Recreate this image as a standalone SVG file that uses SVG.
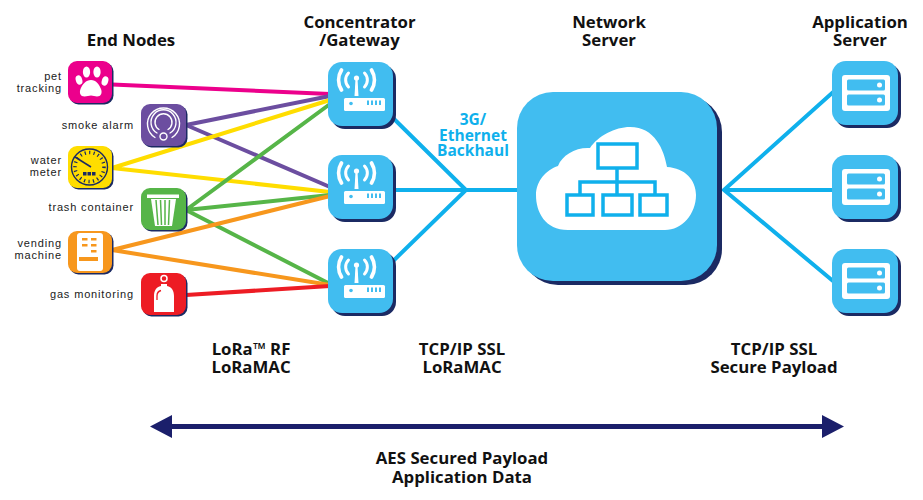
<svg xmlns="http://www.w3.org/2000/svg" width="923" height="500" viewBox="0 0 923 500">
<defs>
<style>
.h{font:700 16.800px "Open Sans","Liberation Sans",sans-serif;fill:#111;text-anchor:middle}
.l{font:400 11px "Liberation Sans",sans-serif;fill:#1a1a1a;text-anchor:end;letter-spacing:.85px}
.b{font:700 15.500px "Open Sans","Liberation Sans",sans-serif;fill:#0fb0ec;text-anchor:middle}
.c{fill:none;stroke-width:4}
.w{fill:#fff}
.sw{fill:none;stroke:#fff;stroke-linecap:round}
.s{fill:#1b2a63}
.blue{fill:#41bdf0}
</style>
<g id="gw">
<rect class="s" x="3" y="3" width="65" height="64" rx="14"/>
<rect class="blue" width="65" height="64" rx="14"/>
<rect class="w" x="16" y="36" width="41" height="13" rx="1.500"/>
<circle cx="23" cy="41.500" r="1.800" fill="#41bdf0"/>
<path d="M40 38.500v4.500M44 38.500v4.500M48 38.500v4.500M52 38.500v4.500" stroke="#41bdf0" stroke-width="2"/>
<path class="w" d="M26.500 34 L27.500 17 h2 L30.500 34z"/>
<circle class="w" cx="28.500" cy="16" r="2.600"/>
<path class="sw" stroke-width="3" d="M20.500 25a10 10 0 0 1 0-14M36.500 11a10 10 0 0 1 0 14"/>
<path class="sw" stroke-width="3.800" d="M13.500 28a19 19 0 0 1 0-20M43.500 8a19 19 0 0 1 0 20"/>
</g>
<g id="srv">
<rect class="s" x="3" y="3" width="66" height="64" rx="14"/>
<rect class="blue" width="66" height="64" rx="14"/>
<rect class="w" x="10" y="14" width="48" height="36" rx="3"/>
<rect class="blue" x="15" y="18.500" width="38" height="11" rx="1.500"/>
<rect class="blue" x="15" y="33.500" width="38" height="11" rx="1.500"/>
<circle class="w" cx="47.500" cy="24" r="2.500"/>
<circle class="w" cx="47.500" cy="39" r="2.500"/>
</g>
</defs>
<rect width="923" height="500" fill="#fff"/>

<g id="connectors">
<path class="c" stroke="#ec008c" d="M112 84.500 L330 94"/>
<path class="c" stroke="#6c4ea0" d="M186 125 L330 96 M186 125 L330 187"/>
<path class="c" stroke="#ffdd00" d="M112 168 L330 100 M112 168 L330 192"/>
<path class="c" stroke="#56b548" d="M186 210 L330 104 M186 210 L330 195 M186 210 L330 284"/>
<path class="c" stroke="#f7971d" d="M112 250 L330 196 M112 250 L330 285"/>
<path class="c" stroke="#ed1c24" d="M186 295 L330 286"/>
<path class="c" stroke="#0fb0ec" stroke-width="4.500" d="M388 113 L466 190 L388 266 M390 190 H520"/>
<path class="c" stroke="#0fb0ec" stroke-width="4.500" d="M836 89.500 L724 190 L836 283.500 M724 190 H836"/>
</g>

<g id="arrow">
<path d="M160 426.500 H832" stroke="#1b1f6b" stroke-width="5"/>
<path d="M150 426.500 L172 415 V438z M844 426.500 L822 415 V438z" fill="#1b1f6b"/>
</g>

<g id="pet-tracking">
<rect class="s" x="69.500" y="62.500" width="44" height="42" rx="9"/>
<rect x="68" y="61" width="44" height="42" rx="9" fill="#ec008c"/>
<g class="w">
<ellipse cx="79" cy="80" rx="3.200" ry="4.800" transform="rotate(-18 79 80)"/>
<ellipse cx="86.500" cy="72" rx="3.600" ry="5.500"/>
<ellipse cx="97" cy="72" rx="3.600" ry="5.500"/>
<ellipse cx="105" cy="81" rx="3.200" ry="4.800" transform="rotate(18 105 81)"/>
<path d="M91 80c5 0 8 4 10 9 1.500 4 0 7.500-4 7.500-2 0-4-1-6-1s-4 1-6.500 1c-4 0-5.500-3.500-4-7.500 2-5 5.500-9 10.500-9z"/>
</g>
<text class="l" x="62" y="80">pet</text><text class="l" x="62" y="92">tracking</text>
</g>

<g id="smoke-alarm">
<rect class="s" x="142.500" y="105.500" width="45" height="42" rx="9"/>
<rect x="141" y="104" width="45" height="42" rx="9" fill="#6c4ea0"/>
<g class="sw" stroke-width="1.400">
<path d="M155 137.500a16 16 0 1 1 17 0M157 133a12.500 12.500 0 1 1 13 0M159 129.500a8.500 8.500 0 1 1 9 0"/>
<circle cx="163.500" cy="136.500" r="3.500"/>
</g>
<text class="l" x="134" y="129">smoke alarm</text>
</g>

<g id="water-meter">
<rect class="s" x="69.500" y="147.500" width="44" height="42" rx="9"/>
<rect x="68" y="146" width="44" height="42" rx="9" fill="#ffdd00"/>
<circle cx="89.500" cy="167" r="18" fill="none" stroke="#1b2a63" stroke-width="1.400"/>
<circle cx="89.500" cy="167" r="14.500" fill="none" stroke="#1b2a63" stroke-width="3.500" stroke-dasharray="1.200 3.300"/>
<path d="M75 157 L91 167" stroke="#1b2a63" stroke-width="1.500"/>
<path d="M83 172h3.500v3.500h-3.500zM87.500 172h3.500v3.500h-3.500zM92 172h3.500v3.500h-3.500z" fill="#1b2a63"/>
<text class="l" x="62" y="164">water</text><text class="l" x="62" y="176">meter</text>
</g>

<g id="trash-container">
<rect class="s" x="142.500" y="189.500" width="45" height="42" rx="9"/>
<rect x="141" y="188" width="45" height="42" rx="9" fill="#56b548"/>
<rect class="w" x="147" y="194.500" width="32" height="3.500"/>
<path class="w" d="M151 199h25l-4 27h-17z"/>
<path d="M156 200l2 25M160.500 200l1 25M165 200v25M169.500 200l-1 25" stroke="#56b548" stroke-width="1.500"/>
<text class="l" x="134" y="211">trash container</text>
</g>

<g id="vending-machine">
<rect class="s" x="69.500" y="232.500" width="44" height="42" rx="9"/>
<rect x="68" y="231" width="44" height="42" rx="9" fill="#f7971d"/>
<rect class="w" x="77" y="233" width="26" height="38" rx="3"/>
<path d="M82 238h5.500v2.500h-5.500zM91 238h5.500v2.500h-5.500zM82 244h5.500v2.500h-5.500zM91 244h5.500v2.500h-5.500zM91 250h5.500v2.500h-5.500z" fill="#f7971d"/>
<rect x="79" y="257" width="19" height="4" fill="#f7971d"/>
<text class="l" x="62" y="247">vending</text><text class="l" x="62" y="259">machine</text>
</g>

<g id="gas-monitoring">
<rect class="s" x="142.500" y="274.500" width="45" height="42" rx="9"/>
<rect x="141" y="273" width="45" height="42" rx="9" fill="#ed1c24"/>
<circle cx="164" cy="278.500" r="3" fill="#ed1c24" stroke="#fff" stroke-width="1.500"/>
<path class="w" d="M161 284h6v2c5 1 7 5 7 10v16h-20v-16c0-5 2-9 7-10z"/>
<path d="M157 300v-4c0-3 2-5 4-5.500" fill="none" stroke="#ed1c24" stroke-width="1.300"/>
<text class="l" x="134" y="298">gas monitoring</text>
</g>

<use id="gateway-1" href="#gw" x="328" y="62"/>
<use id="gateway-2" href="#gw" x="328" y="155"/>
<use id="gateway-3" href="#gw" x="328" y="249"/>

<g id="network-server">
<rect class="s" x="522" y="96" width="200" height="189" rx="36"/>
<rect class="blue" x="517" y="92" width="200" height="189" rx="36"/>
<path class="w" d="M568 230 C545 230 536 212 536 195 C536 181 546 170 558 166 C562 155 576 147 590 148 C598 136 615 127 630 127 C655 127 664 150 667 167 C685 168 696 180 696 195 C696 214 682 230 665 230 Z"/>
<g fill="none" stroke="#0fb0ec" stroke-width="3.500">
<rect x="598" y="144" width="39" height="24"/>
<rect x="567" y="195" width="26" height="20"/>
<rect x="603" y="195" width="29" height="20"/>
<rect x="640" y="195" width="27" height="20"/>
<path d="M617 168V195M580 195V182H655V195"/>
</g>
</g>

<use id="server-1" href="#srv" x="832" y="61"/>
<use id="server-2" href="#srv" x="832" y="155"/>
<use id="server-3" href="#srv" x="832" y="249"/>

<g id="labels">
<text class="h" x="131" y="45.500">End Nodes</text>
<text class="h" x="359.500" y="27.500">Concentrator</text><text class="h" x="359.500" y="45.500">/Gateway</text>
<text class="h" x="609" y="27.500">Network</text><text class="h" x="609" y="45.500">Server</text>
<text class="h" x="860" y="28">Application</text><text class="h" x="860" y="45.500">Server</text>
<text class="b" x="473" y="125">3G/</text><text class="b" x="473" y="141">Ethernet</text><text class="b" x="473" y="156">Backhaul</text>
<text class="h" x="251" y="354.500">LoRa™ RF</text><text class="h" x="251" y="372.500">LoRaMAC</text>
<text class="h" x="462" y="354.500">TCP/IP SSL</text><text class="h" x="462" y="372.500">LoRaMAC</text>
<text class="h" x="774" y="354.500">TCP/IP SSL</text><text class="h" x="774" y="372.500">Secure Payload</text>
<text class="h" x="462" y="463.500">AES Secured Payload</text><text class="h" x="462" y="482.500">Application Data</text>
</g>
</svg>
